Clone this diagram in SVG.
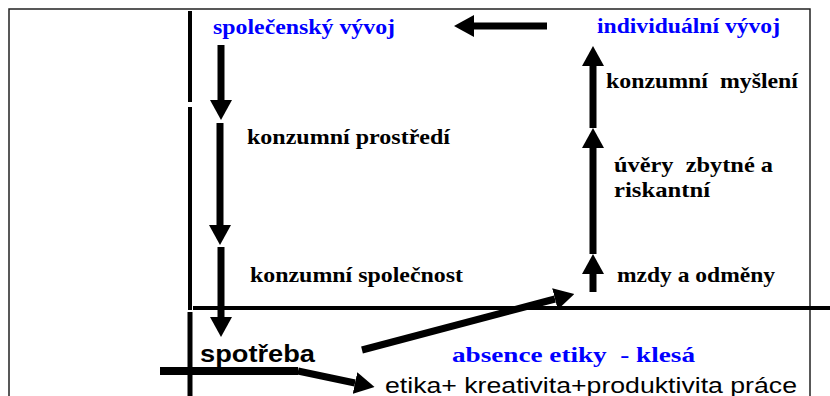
<svg xmlns="http://www.w3.org/2000/svg" width="830" height="396" viewBox="0 0 830 396">
<defs>
<style>
.blue{font-family:"Liberation Serif","Times New Roman",serif;font-weight:bold;font-size:22px;fill:#0000ff}
.lab{font-family:"Liberation Serif","Times New Roman",serif;font-weight:bold;font-size:22px;fill:#000}
.sans{font-family:"Liberation Sans",Arial,sans-serif;fill:#000}
.arr{stroke:#000;stroke-width:7;fill:none;marker-end:url(#ah)}
.thick{stroke:#000;fill:none}
</style>
<marker id="ah" markerUnits="userSpaceOnUse" viewBox="0 0 20 22" markerWidth="20" markerHeight="22" refX="0" refY="11" orient="auto">
<path d="M0,0 L20,11 L0,22 z" fill="#000"/>
</marker>
</defs>
<rect width="830" height="396" fill="#fff"/>
<rect x="9" y="9" width="801" height="400" fill="none" stroke="#222" stroke-width="1.5"/>
<g id="frame">
<line class="thick" x1="190" y1="11" x2="190" y2="102" stroke-width="4"/>
<line class="thick" x1="190" y1="107" x2="190" y2="310" stroke-width="4"/>
<line class="thick" x1="190" y1="312" x2="190" y2="396" stroke-width="5"/>
<line class="thick" x1="193" y1="308" x2="830" y2="308" stroke-width="4"/>
</g>
<g id="connectors">
<line class="arr" x1="221" y1="45" x2="221" y2="100"/>
<line class="arr" x1="220" y1="123" x2="220" y2="225"/>
<line class="arr" x1="221" y1="247" x2="221" y2="317"/>
<line class="arr" x1="547" y1="26" x2="474" y2="26"/>
<line class="arr" x1="593" y1="292" x2="593" y2="274"/>
<line class="arr" x1="593" y1="254" x2="593" y2="148"/>
<line class="arr" x1="593" y1="128" x2="593" y2="66"/>
<line class="arr" x1="362" y1="350" x2="555" y2="299"/>
<line class="thick" x1="160" y1="371" x2="298" y2="371" stroke-width="8"/>
<line class="arr" x1="298" y1="371" x2="355" y2="383"/>
</g>
<g id="n-spolecensky"><text class="blue" x="213" y="34" textLength="182" lengthAdjust="spacingAndGlyphs">společenský vývoj</text></g>
<g id="n-individualni"><text class="blue" x="597" y="33" textLength="183" lengthAdjust="spacingAndGlyphs">individuální vývoj</text></g>
<g id="n-mysleni"><text class="lab" x="606" y="88" textLength="192" lengthAdjust="spacingAndGlyphs" xml:space="preserve">konzumní  myšlení</text></g>
<g id="n-prostredi"><text class="lab" x="247" y="144" textLength="203" lengthAdjust="spacingAndGlyphs">konzumní prostředí</text></g>
<g id="n-uvery"><text class="lab" x="614" y="172" textLength="159" lengthAdjust="spacingAndGlyphs" xml:space="preserve">úvěry  zbytné a</text><text class="lab" x="614" y="197" textLength="96" lengthAdjust="spacingAndGlyphs">riskantní</text></g>
<g id="n-spolecnost"><text class="lab" x="250" y="282" textLength="213" lengthAdjust="spacingAndGlyphs">konzumní společnost</text></g>
<g id="n-mzdy"><text class="lab" x="617" y="282" textLength="158" lengthAdjust="spacingAndGlyphs">mzdy a odměny</text></g>
<g id="n-spotreba"><text class="sans" x="200" y="362" font-size="23" font-weight="bold" textLength="115" lengthAdjust="spacingAndGlyphs">spotřeba</text></g>
<g id="n-absence"><text class="blue" x="452" y="362" textLength="243" lengthAdjust="spacingAndGlyphs" xml:space="preserve">absence etiky  - klesá</text></g>
<g id="n-etika"><text class="sans" x="385" y="393" font-size="22" textLength="412" lengthAdjust="spacingAndGlyphs">etika+ kreativita+produktivita práce</text></g>
</svg>
